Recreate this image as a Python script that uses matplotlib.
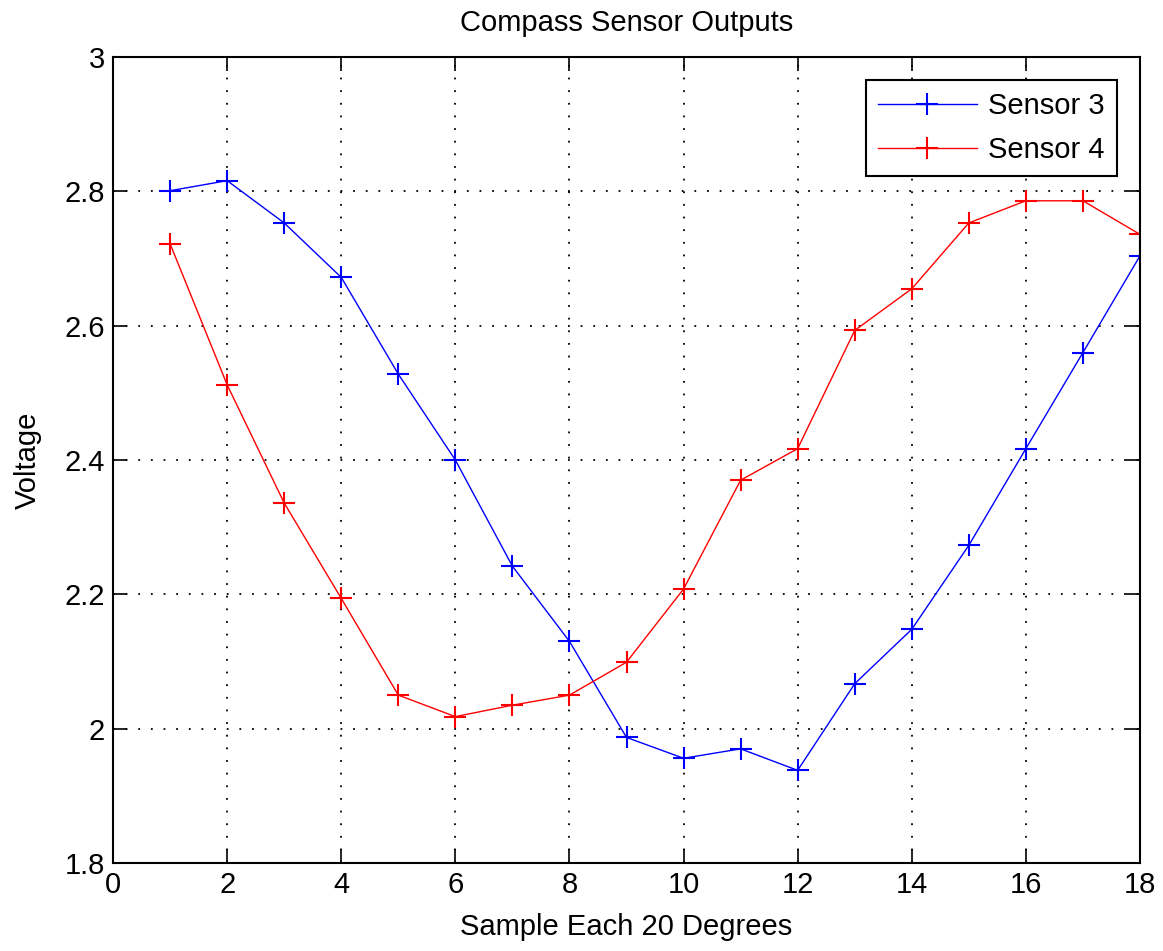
import numpy as np
import matplotlib
matplotlib.use("Agg")
import matplotlib.pyplot as plt

samples = list(range(1, 19))
sensor3 = [2.801, 2.816, 2.753, 2.672, 2.528, 2.400, 2.242, 2.130, 1.987, 1.956,
           1.970, 1.938, 2.067, 2.148, 2.273, 2.417, 2.560, 2.704]
sensor4 = [2.722, 2.512, 2.336, 2.194, 2.050, 2.018, 2.035, 2.050, 2.099, 2.208,
           2.370, 2.417, 2.593, 2.655, 2.753, 2.786, 2.786, 2.736]
xticks = list(range(0, 19, 2))
yticks = [1.8, 2.0, 2.2, 2.4, 2.6, 2.8, 3.0]
yticklabels = ["1.8", "2", "2.2", "2.4", "2.6", "2.8", "3"]

plt.rcParams['font.family'] = ['Liberation Sans', 'DejaVu Sans']

fig = plt.figure(figsize=(11.63, 9.51), dpi=100)
ax = fig.add_axes([0.0972, 0.0925, 0.8830, 0.8475])

ax.plot(samples, sensor3, color="blue", marker="+", markersize=16, markeredgewidth=1.5,
        linewidth=1.0, label="Sensor 3")
ax.plot(samples, sensor4, color="red", marker="+", markersize=16, markeredgewidth=1.5,
        linewidth=1.0, label="Sensor 4")

ax.set_xlim(0, 18)
ax.set_ylim(1.8, 3.0)
ax.set_xticks(xticks)
ax.set_yticks(yticks)
ax.set_yticklabels(yticklabels)
ax.tick_params(labelsize=21, direction="in", length=10, width=1.2, top=True, right=True,
               pad=6)
ax.grid(True, linestyle=(0, (1, 6)), color="black", linewidth=1.3)
for s in ax.spines.values():
    s.set_linewidth(1.5)

ax.set_title("Compass Sensor Outputs", fontsize=21, pad=19)
ax.set_xlabel("Sample Each 20 Degrees", fontsize=21, labelpad=10)
ax.set_ylabel("Voltage", fontsize=21, labelpad=16)

leg = ax.legend(loc="upper right", fontsize=21, fancybox=False, framealpha=1,
                edgecolor="black", borderaxespad=0.8, handlelength=3.4,
                labelspacing=0.55, handletextpad=0.4)
leg.get_frame().set_linewidth(1.5)

fig.savefig("out.png", dpi=100)
